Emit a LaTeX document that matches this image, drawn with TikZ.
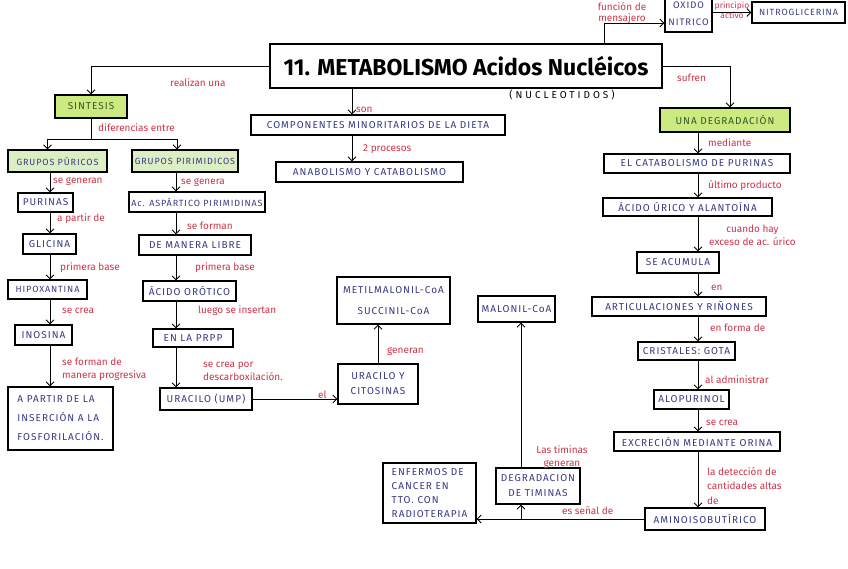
\documentclass[tikz,border=0pt]{standalone}
\usepackage{fontspec}
\setmainfont{Fira Sans}
\newfontfamily\capsfont[LetterSpace=10]{Fira Sans}
\newfontfamily\widefont[LetterSpace=30]{Fira Sans}
\usetikzlibrary{arrows.meta}
\definecolor{ink}{RGB}{58,58,135}
\definecolor{leaf}{RGB}{52,88,44}
\definecolor{note}{RGB}{205,52,72}
\definecolor{lime}{RGB}{204,234,128}
\definecolor{palelime}{RGB}{222,238,196}

\begin{document}
\begin{tikzpicture}[x=1pt,y=-1pt]
\path[use as bounding box, fill=white] (0,0) rectangle (848,568);
\tikzstyle{box}=[draw=black, line width=1.1pt, text=ink, font=\capsfont\fontsize{10}{15}\selectfont, inner sep=2pt, align=center, minimum height=20]
\tikzstyle{smallbox}=[box, font=\capsfont\fontsize{9}{15}\selectfont]
\tikzstyle{lbl}=[text=note, font=\fontsize{10}{13}\selectfont, inner sep=0pt, align=left, anchor=west]
\tikzstyle{link}=[->, >={Straight Barb[length=4pt,width=8pt]}, line width=0.9pt]

\coordinate (colL) at (50,0);
\coordinate (colM) at (176,0);
\coordinate (colD) at (352,0);
\coordinate (colT) at (521,0);
\coordinate (colR) at (698,0);
\coordinate (msg) at (604,0);
\coordinate (fork) at (91,139);

\node[box, line width=2.6pt, text=black, minimum width=392, minimum height=44, font=\bfseries\fontsize{23}{26}\selectfont] (title) at (466,66) {11. METABOLISMO Acidos Nucléicos};
\node[font=\widefont\fontsize{10}{11}\selectfont] (nucleo) at (562,95) {(NUCLEOTIDOS)};

\node[box, fill=lime, text=leaf, minimum width=72, minimum height=23] (sintesis) at (91,106.5) {SINTESIS};
\node[smallbox, fill=palelime, minimum width=99, minimum height=22] (gpur) at (57.5,161) {GRUPOS PÚRICOS};
\node[smallbox, fill=palelime, minimum width=106, minimum height=22] (gpir) at (185,161) {GRUPOS PIRIMIDICOS};

\node[box, minimum width=55, minimum height=19] (purinas) at (45.5,202.5) {PURINAS};
\node[box, minimum width=53] (glicina) at (49.5,244) {GLICINA};
\node[smallbox, minimum width=79, minimum height=19] (hipox) at (47.5,289.5) {HIPOXANTINA};
\node[box, minimum width=57] (inosina) at (43.5,335) {INOSINA};
\node[box, align=left, minimum width=105, minimum height=63, font=\capsfont\fontsize{10}{19}\selectfont] (apartir) at (60.5,418.5) {A PARTIR DE LA\\INSERCIÓN A LA\\FOSFORILACIÓN.};

\node[smallbox, minimum width=136] (aspartico) at (197,202) {Ac. ASPÁRTICO PIRIMIDINAS};
\node[box, minimum width=112] (libre) at (195,245) {DE MANERA LIBRE};
\node[box, minimum width=93] (orotico) at (189.5,291) {ÁCIDO ORÓTICO};
\node[box, minimum width=80, minimum height=18] (prpp) at (193,338) {EN LA PRPP};
\node[box, minimum width=92, minimum height=22] (uracilo) at (206,399) {URACILO (UMP)};
\node[box, minimum width=80, minimum height=40] (uracit) at (378,384) {URACILO Y\\CITOSINAS};
\node[box, minimum width=113, minimum height=47, font=\capsfont\fontsize{10}{21}\selectfont] (metil) at (393.5,300.5) {METILMALONIL-CoA\\SUCCINIL-CoA};

\node[box, minimum width=254] (componentes) at (378,125) {COMPONENTES MINORITARIOS DE LA DIETA};
\node[box, minimum width=187] (anabol) at (369.5,172) {ANABOLISMO Y CATABOLISMO};

\node[box, minimum width=47, minimum height=36, font=\capsfont\fontsize{9.5}{17}\selectfont] (oxido) at (688.5,14) {OXIDO\\NITRICO};
\node[smallbox, minimum width=93, minimum height=21] (nitro) at (798.5,12.5) {NITROGLICERINA};

\node[box, fill=lime, text=leaf, minimum width=130, minimum height=24] (degrad) at (725,120) {UNA DEGRADACIÓN};
\node[box, minimum width=186, minimum height=19] (catab) at (697,163.5) {EL CATABOLISMO DE PURINAS};
\node[box, minimum width=169, minimum height=18] (urico) at (687.5,207) {ÁCIDO ÚRICO Y ALANTOÍNA};
\node[box, minimum width=82, minimum height=21] (acumula) at (678,262.5) {SE ACUMULA};
\node[box, minimum width=174, minimum height=19] (artic) at (679,306.5) {ARTICULACIONES Y RIÑONES};
\node[box, minimum width=97, minimum height=18] (cristales) at (686.5,351) {CRISTALES: GOTA};
\node[box, minimum width=75, minimum height=19] (alopur) at (691.5,399.5) {ALOPURINOL};
\node[box, minimum width=166, minimum height=19] (excrecion) at (697,441.5) {EXCRECIÓN MEDIANTE ORINA};
\node[box, minimum width=120, minimum height=22] (amino) at (705,519) {AMINOISOBUTÍRICO};

\node[box, align=left, minimum width=93, minimum height=60, font=\capsfont\fontsize{10}{14}\selectfont] (cancer) at (429.5,493) {ENFERMOS DE\\CANCER EN\\TTO. CON\\RADIOTERAPIA};
\node[box, minimum width=84, minimum height=36] (timinas) at (538,486) {DEGRADACION\\DE TIMINAS};
\node[box, minimum width=77, minimum height=26] (malonil) at (516.5,309) {MALONIL-CoA};

\draw[link] (title.west) -| (sintesis.north);
\draw[line width=0.9pt] (sintesis.south) -- (fork);
\draw[link] (fork) -| ([xshift=-10pt]gpur.north);
\draw[link] (fork) -| ([xshift=-8pt]gpir.north);

\draw[link] (gpur.south -| colL) -- (purinas.north -| colL);
\draw[link] (purinas.south -| colL) -- (glicina.north -| colL);
\draw[link] (glicina.south -| colL) -- (hipox.north -| colL);
\draw[link] (hipox.south -| colL) -- (inosina.north -| colL);
\draw[link] (inosina.south -| colL) -- (apartir.north -| colL);

\draw[link] (gpir.south -| colM) -- (aspartico.north -| colM);
\draw[link] (aspartico.south -| colM) -- (libre.north -| colM);
\draw[link] (libre.south -| colM) -- (orotico.north -| colM);
\draw[link] (orotico.south -| colM) -- (prpp.north -| colM);
\draw[link] (prpp.south -| colM) -- (uracilo.north -| colM);
\draw[link] (uracilo.east) -- (uracilo.east -| uracit.west);
\draw[link] (uracit.north) -- (uracit.north |- metil.south);

\draw[link] (title.south -| colD) -- (componentes.north -| colD);
\draw[link] (componentes.south -| colD) -- (anabol.north -| colD);

\draw[link] (title.north -| msg) |- ([yshift=-9pt]oxido.west);
\draw[link] (oxido.east |- nitro.west) -- (nitro.west);
\draw[link] (title.east) -| ([xshift=5pt]degrad.north);

\draw[link] (degrad.south -| colR) -- (catab.north -| colR);
\draw[link] (catab.south -| colR) -- (urico.north -| colR);
\draw[link] (urico.south -| colR) -- (acumula.north -| colR);
\draw[link] (acumula.south -| colR) -- (artic.north -| colR);
\draw[link] (artic.south -| colR) -- (cristales.north -| colR);
\draw[link] (cristales.south -| colR) -- (alopur.north -| colR);
\draw[link] (alopur.south -| colR) -- (excrecion.north -| colR);
\draw[link] (excrecion.south -| colR) -- (amino.north -| colR);

\draw[link] (amino.west) -- (amino.west -| cancer.east);
\draw[link] (amino.west -| colT) -- (timinas.south -| colT);
\draw[link] (timinas.north -| colT) -- (malonil.south -| colT);

\node[lbl] (l-realizan) at (170,83) {realizan una};
\node[lbl] (l-difer) at (98,128) {diferencias entre};
\node[lbl] (l-generan) at (53,182) {se generan};
\node[lbl] (l-partir) at (57,219) {a partir de};
\node[lbl] (l-base1) at (60,268) {primera base};
\node[lbl] (l-crea1) at (62,311) {se crea};
\node[lbl] (l-forman1) at (62,369) {se forman de\\manera progresiva};
\node[lbl] (l-genera) at (181,183) {se genera};
\node[lbl] (l-forman2) at (187,226) {se forman};
\node[lbl] (l-base2) at (195,268) {primera base};
\node[lbl] (l-insertan) at (198,311) {luego se insertan};
\node[lbl] (l-descarb) at (203,371) {se crea por\\descarboxilación.};
\node[lbl] (l-el) at (318,395) {el};
\node[lbl] (l-generan2) at (387,352) {generan};
\node[lbl] (l-son) at (356,110) {son};
\node[lbl] (l-procesos) at (363,149) {2 procesos};
\node[lbl, anchor=center, align=center, font=\fontsize{10}{11}\selectfont] (l-funcion) at (622,13) {función de\\mensajero};
\node[lbl, anchor=center, align=center, font=\fontsize{8.5}{10}\selectfont] (l-principio) at (732,10) {principio\\activo};
\node[lbl] (l-sufren) at (677,78) {sufren};
\node[lbl] (l-mediante) at (708,143) {mediante};
\node[lbl] (l-ultimo) at (708,186) {último producto};
\node[lbl, align=center] (l-cuando) at (709,235) {cuando hay\\exceso de ac. úrico};
\node[lbl] (l-en) at (711,288) {en};
\node[lbl] (l-forma) at (710,328) {en forma de};
\node[lbl] (l-admin) at (705,380) {al administrar};
\node[lbl] (l-crea2) at (706,423) {se crea};
\node[lbl, font=\fontsize{10}{14.5}\selectfont] (l-deteccion) at (707,486) {la detección de\\cantidades altas\\de};
\node[lbl] (l-senal) at (562,511) {es señal de};
\node[lbl, anchor=center, align=center] (l-timinas) at (562,457) {Las timinas\\generan};
\end{tikzpicture}
\end{document}
